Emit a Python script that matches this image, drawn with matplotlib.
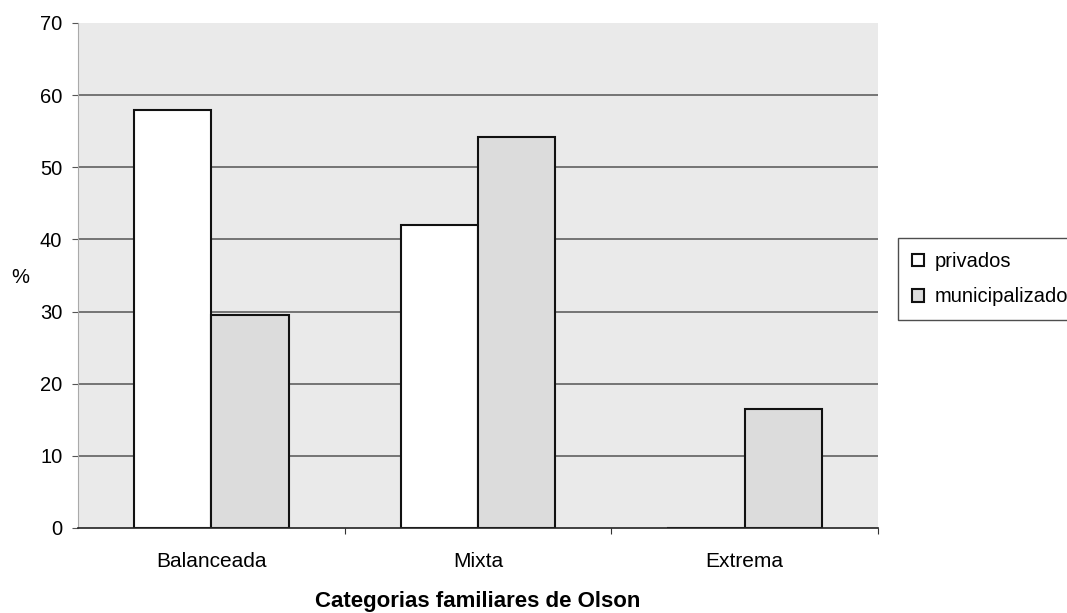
import matplotlib
matplotlib.use("Agg")
import matplotlib.pyplot as plt
import numpy as np

plt.rcParams['font.family'] = ['Liberation Sans', 'DejaVu Sans']

categories = ["Balanceada", "Mixta", "Extrema"]
privados = [57.9, 42.0, 0.0]
municipalizados = [29.5, 54.2, 16.5]
series_labels = ["privados", "municipalizados"]
y_ticks = [0, 10, 20, 30, 40, 50, 60, 70]

fig = plt.figure(figsize=(10.67, 6.13), dpi=100)
ax = fig.add_axes([0.0731, 0.1387, 0.7498, 0.8238])
ax.set_facecolor('#eaeaea')

x = np.arange(len(categories))
w = 0.29
ax.bar(x - w / 2, privados, width=w, color='white', edgecolor='#111111',
       linewidth=1.5, label=series_labels[0], zorder=3)
ax.bar(x + w / 2, municipalizados, width=w, color='#dcdcdc', edgecolor='#111111',
       linewidth=1.5, label=series_labels[1], zorder=3)

ax.set_xlim(-0.5, len(categories) - 0.5)
ax.set_ylim(0, 70)
ax.set_yticks(y_ticks)
ax.set_yticklabels([str(t) for t in y_ticks], fontsize=14.5)
for t in y_ticks[1:-1]:
    ax.axhline(t, color='#555555', linewidth=1.1, zorder=1)

# category boundaries carry the tick marks, names sit in between
ax.set_xticks(np.arange(len(categories)) + 0.5)
ax.set_xticklabels([])
ax.set_xticks(x, minor=True)
ax.set_xticklabels(categories, minor=True, fontsize=15)
ax.tick_params(axis='x', which='major', length=4, color='#333333', direction='out')
ax.tick_params(axis='x', which='minor', length=0, pad=17)
ax.tick_params(axis='y', length=4.3, color='#555555', pad=7)

for s in ['top', 'right']:
    ax.spines[s].set_visible(False)
ax.spines['left'].set_color('#aaaaaa')
ax.spines['bottom'].set_color('#222222')
ax.spines['bottom'].set_linewidth(1.2)
ax.spines['bottom'].set_zorder(4)

fig.text(0.448, 0.0105, "Categorias familiares de Olson", fontsize=16,
         fontweight='bold', ha='center', va='baseline')
fig.text(0.0187, 0.548, "%", fontsize=14.5, ha='center', va='center')

leg = fig.legend(loc='upper left', bbox_to_anchor=(0.8416, 0.6117), fontsize=14.5,
                 frameon=True, fancybox=False, handlelength=0.6, handleheight=0.6,
                 handletextpad=0.5, borderpad=0.7, labelspacing=0.8, borderaxespad=0)
leg.get_frame().set_edgecolor('#222222')
leg.get_frame().set_linewidth(1.0)

fig.savefig("out.png", dpi=100)
